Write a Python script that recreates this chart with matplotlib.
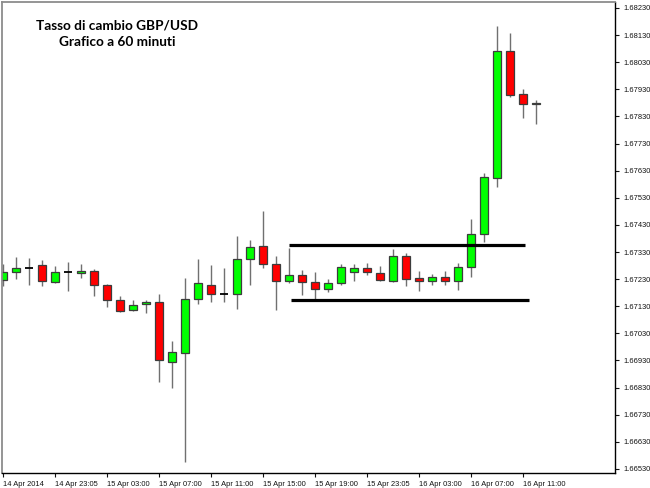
import numpy as np
import matplotlib
matplotlib.use("Agg")
import matplotlib.pyplot as plt

# GBP/USD hourly candles
opens = [1.67226, 1.67255, 1.67271, 1.67281, 1.67218, 1.67256, 1.67251, 1.67260, 1.67208, 1.67153,
         1.67115, 1.67137, 1.67145, 1.66926, 1.66958, 1.67156, 1.67210, 1.67174, 1.67175, 1.67306,
         1.67353, 1.67286, 1.67223, 1.67245, 1.67218, 1.67192, 1.67214, 1.67256, 1.67271, 1.67253,
         1.67224, 1.67314, 1.67233, 1.67224, 1.67239, 1.67223, 1.67275, 1.67395, 1.67602, 1.68072,
         1.67914, 1.67877]
highs = [1.67284, 1.67311, 1.67308, 1.67299, 1.67278, 1.67293, 1.67284, 1.67266, 1.67212, 1.67167,
         1.67153, 1.67153, 1.67176, 1.67002, 1.67233, 1.67303, 1.67282, 1.67270, 1.67389, 1.67374,
         1.67480, 1.67314, 1.67343, 1.67263, 1.67257, 1.67229, 1.67285, 1.67285, 1.67290, 1.67278,
         1.67340, 1.67327, 1.67261, 1.67250, 1.67261, 1.67288, 1.67450, 1.67620, 1.68164, 1.68139,
         1.67930, 1.67891]
lows = [1.67204, 1.67229, 1.67210, 1.67204, 1.67216, 1.67187, 1.67235, 1.67168, 1.67128, 1.67109,
        1.67114, 1.67104, 1.66851, 1.66827, 1.66554, 1.67138, 1.67146, 1.67146, 1.67120, 1.67207,
        1.67270, 1.67117, 1.67216, 1.67171, 1.67155, 1.67183, 1.67208, 1.67224, 1.67247, 1.67224,
        1.67220, 1.67204, 1.67186, 1.67208, 1.67208, 1.67189, 1.67239, 1.67366, 1.67571, 1.67903,
        1.67823, 1.67801]
closes = [1.67255, 1.67270, 1.67271, 1.67224, 1.67255, 1.67256, 1.67260, 1.67208, 1.67153, 1.67112,
          1.67133, 1.67145, 1.66930, 1.66960, 1.67157, 1.67214, 1.67175, 1.67174, 1.67304, 1.67349,
          1.67286, 1.67224, 1.67247, 1.67218, 1.67193, 1.67214, 1.67274, 1.67271, 1.67256, 1.67226,
          1.67314, 1.67229, 1.67224, 1.67238, 1.67223, 1.67274, 1.67395, 1.67605, 1.68072, 1.67909,
          1.67875, 1.67880]

tick_pos = [0, 4, 8, 12, 16, 20, 24, 28, 32, 36, 40]
tick_labels = ["14 Apr 2014", "14 Apr 23:05", "15 Apr 03:00", "15 Apr 07:00", "15 Apr 11:00",
               "15 Apr 15:00", "15 Apr 19:00", "15 Apr 23:05", "16 Apr 03:00", "16 Apr 07:00",
               "16 Apr 11:00"]
price_ticks = np.round(np.arange(1.66530, 1.68231, 0.001), 5)

# drawn range lines (resistance / support)
resist_level, resist_span = 1.67354, (22.0, 40.2)
support_level, support_span = 1.67154, (22.2, 40.5)

fig = plt.figure(figsize=(6.5, 4.88), dpi=100)
ax = fig.add_axes([2 / 650, 15 / 488, 613 / 650, 471 / 488])

x = np.arange(len(opens))
o = np.array(opens)
c = np.array(closes)
up = c >= o
body_w = 0.62

ax.vlines(x, lows, highs, color="#707070", lw=1.0, zorder=1)
doji = np.abs(c - o) < 0.00002
real = ~doji
ax.bar(x[real], np.abs(c - o)[real], bottom=np.minimum(o, c)[real], width=body_w,
       color=np.where(up, "#00ff00", "#ff0000")[real], edgecolor="#3c3c3c", lw=0.9, zorder=2)
ax.hlines(o[doji], x[doji] - body_w / 2, x[doji] + body_w / 2, color="black", lw=1.3, zorder=2)

ax.hlines(resist_level, *resist_span, color="black", lw=2.3, zorder=3)
ax.hlines(support_level, *support_span, color="black", lw=2.3, zorder=3)

ax.set_xlim(-0.05, 47.1)
ax.set_ylim(1.66515, 1.68252)

ax.yaxis.tick_right()
ax.set_yticks(price_ticks)
ax.set_yticklabels([f"{v:.5f}" for v in price_ticks])
ax.set_xticks(tick_pos)
ax.set_xticklabels(tick_labels)
for lbl in ax.get_xticklabels():
    lbl.set_horizontalalignment("left")
ax.tick_params(axis="both", direction="out", length=3, width=0.8, labelsize=5.4,
               colors="#111111", labelfontfamily="Liberation Sans")
ax.tick_params(axis="y", pad=3)
ax.tick_params(axis="x", pad=3)

for side in ["left", "top"]:
    ax.spines[side].set_color("#8c8c8c")
    ax.spines[side].set_linewidth(1.3)
for side in ["right", "bottom"]:
    ax.spines[side].set_color("black")
    ax.spines[side].set_linewidth(1.0)

fig.text(117 / 650, 1 - 34 / 488, "Tasso di cambio GBP/USD\nGrafico a 60 minuti",
         ha="center", va="center", fontsize=9.8, fontweight="bold", family="Lato",
         linespacing=1.45)

fig.savefig("out.png", dpi=100)
